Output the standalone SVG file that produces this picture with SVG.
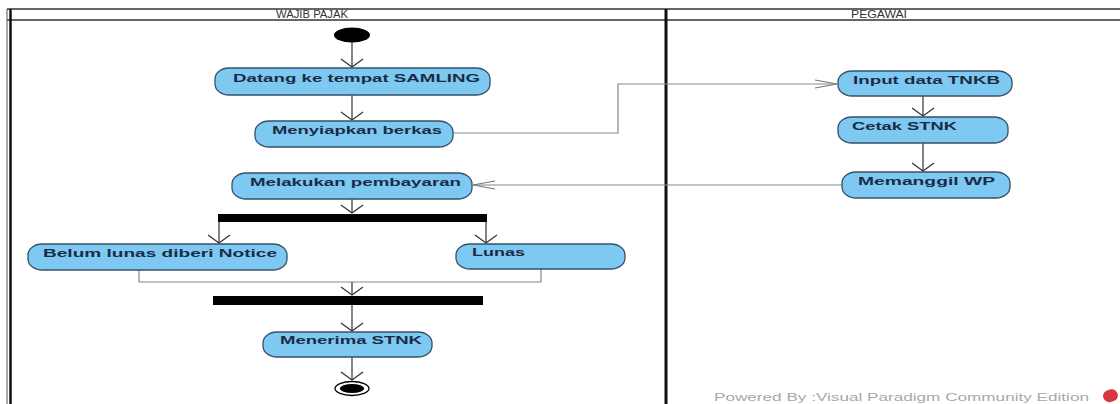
<svg xmlns="http://www.w3.org/2000/svg" width="1120" height="404" viewBox="0 0 1120 404">
<style>
.act{fill:#7dc9f2;stroke:#34506a;stroke-width:1.3}
.lbl{font-family:"Liberation Sans",Arial,sans-serif;font-size:10.5px;font-weight:bold;fill:#1c2b45}
.hdr{font-family:"Liberation Sans",Arial,sans-serif;font-size:10px;fill:#333}
.flow{fill:none;stroke:#333;stroke-width:1.2}
.flowg{fill:none;stroke:#8a8a8a;stroke-width:1.2}
.bar{fill:#000}
.wm{font-family:"Liberation Sans",Arial,sans-serif;font-size:10px;fill:#a8a8a8}
</style>
<defs>
<marker id="aV" markerUnits="userSpaceOnUse" viewBox="0 0 10 24" markerWidth="10" markerHeight="24" refX="9" refY="12" orient="auto">
<path d="M1,1 L9,12 L1,23" fill="none" stroke="#333" stroke-width="1.2"/>
</marker>
<marker id="aH" markerUnits="userSpaceOnUse" viewBox="0 0 24 10" markerWidth="24" markerHeight="10" refX="23" refY="5" orient="auto">
<path d="M1,1 L23,5 L1,9" fill="none" stroke="#777" stroke-width="1.2"/>
</marker>
</defs>
<rect width="1120" height="404" fill="#fff"/>
<g id="swimlanes">
<line x1="7" y1="9" x2="1120" y2="9" stroke="#333" stroke-width="1.5"/>
<line x1="7" y1="20" x2="1120" y2="20" stroke="#333" stroke-width="1.5"/>
<line x1="7" y1="9" x2="7" y2="404" stroke="#555" stroke-width="1"/>
<line x1="10.5" y1="9" x2="10.5" y2="404" stroke="#111" stroke-width="2.5"/>
<line x1="666" y1="9" x2="666" y2="404" stroke="#111" stroke-width="3"/>
<text class="hdr" x="312" y="18" text-anchor="middle" textLength="72" lengthAdjust="spacingAndGlyphs">WAJIB PAJAK</text>
<text class="hdr" x="879" y="18" text-anchor="middle" textLength="56" lengthAdjust="spacingAndGlyphs">PEGAWAI</text>
</g>
<g id="connectors">
<path class="flow" d="M352,42 V67" marker-end="url(#aV)"/>
<path class="flow" d="M352,95 V120" marker-end="url(#aV)"/>
<path class="flowg" d="M453,133 H618 V84 H837" marker-end="url(#aH)"/>
<path class="flow" d="M923,96 V116" marker-end="url(#aV)"/>
<path class="flow" d="M923,143 V171" marker-end="url(#aV)"/>
<path class="flowg" d="M842,185 H473" marker-end="url(#aH)"/>
<path class="flow" d="M352,199 V213" marker-end="url(#aV)"/>
<path class="flow" d="M219,222 V243" marker-end="url(#aV)"/>
<path class="flow" d="M486,222 V243" marker-end="url(#aV)"/>
<path class="flowg" d="M139,270 V282 H352"/>
<path class="flowg" d="M541,269 V282 H352"/>
<path class="flow" d="M352,282 V295" marker-end="url(#aV)"/>
<path class="flow" d="M352,305 V331" marker-end="url(#aV)"/>
<path class="flow" d="M352,357 V380" marker-end="url(#aV)"/>
</g>
<g id="initial"><ellipse cx="352" cy="35" rx="18" ry="7.5" fill="#000"/></g>
<g id="datang">
<rect class="act" x="215" y="68" width="275" height="27" rx="14" ry="11"/>
<text class="lbl" x="233" y="82" textLength="247" lengthAdjust="spacingAndGlyphs">Datang ke tempat SAMLING</text>
</g>
<g id="menyiapkan">
<rect class="act" x="255" y="121" width="198" height="26" rx="14" ry="11"/>
<text class="lbl" x="272" y="134" textLength="170" lengthAdjust="spacingAndGlyphs">Menyiapkan berkas</text>
</g>
<g id="input">
<rect class="act" x="838" y="71" width="174" height="25" rx="14" ry="11"/>
<text class="lbl" x="853" y="84" textLength="147" lengthAdjust="spacingAndGlyphs">Input data TNKB</text>
</g>
<g id="cetak">
<rect class="act" x="838" y="117" width="170" height="26" rx="14" ry="11"/>
<text class="lbl" x="852" y="130" textLength="105" lengthAdjust="spacingAndGlyphs">Cetak STNK</text>
</g>
<g id="memanggil">
<rect class="act" x="842" y="172" width="168" height="26" rx="14" ry="11"/>
<text class="lbl" x="858" y="185" textLength="137" lengthAdjust="spacingAndGlyphs">Memanggil WP</text>
</g>
<g id="melakukan">
<rect class="act" x="232" y="173" width="240" height="26" rx="14" ry="11"/>
<text class="lbl" x="250" y="186" textLength="211" lengthAdjust="spacingAndGlyphs">Melakukan pembayaran</text>
</g>
<g id="fork"><rect class="bar" x="218" y="214" width="269" height="8"/></g>
<g id="belum">
<rect class="act" x="28" y="244" width="259" height="26" rx="14" ry="11"/>
<text class="lbl" x="43" y="257" textLength="234" lengthAdjust="spacingAndGlyphs">Belum lunas diberi Notice</text>
</g>
<g id="lunas">
<rect class="act" x="456" y="244" width="169" height="25" rx="14" ry="11"/>
<text class="lbl" x="472" y="256" textLength="53" lengthAdjust="spacingAndGlyphs">Lunas</text>
</g>
<g id="join"><rect class="bar" x="213" y="296" width="270" height="9"/></g>
<g id="menerima">
<rect class="act" x="263" y="332" width="169" height="25" rx="14" ry="11"/>
<text class="lbl" x="280" y="344" textLength="142" lengthAdjust="spacingAndGlyphs">Menerima STNK</text>
</g>
<g id="final">
<ellipse cx="352" cy="388.5" rx="17" ry="7" fill="#fff" stroke="#000" stroke-width="1.3"/>
<ellipse cx="352" cy="388.5" rx="12" ry="4.5" fill="#000"/>
</g>
<g id="watermark">
<text class="wm" x="714" y="401" textLength="375" lengthAdjust="spacingAndGlyphs">Powered By :Visual Paradigm Community Edition</text>
<path d="M1103,396 Q1103,392 1108,390 L1112,389 Q1117,390 1118,395 L1117,399 Q1112,403 1108,402 Q1103,400 1103,396 Z" fill="#d9363e"/>
</g>
</svg>
